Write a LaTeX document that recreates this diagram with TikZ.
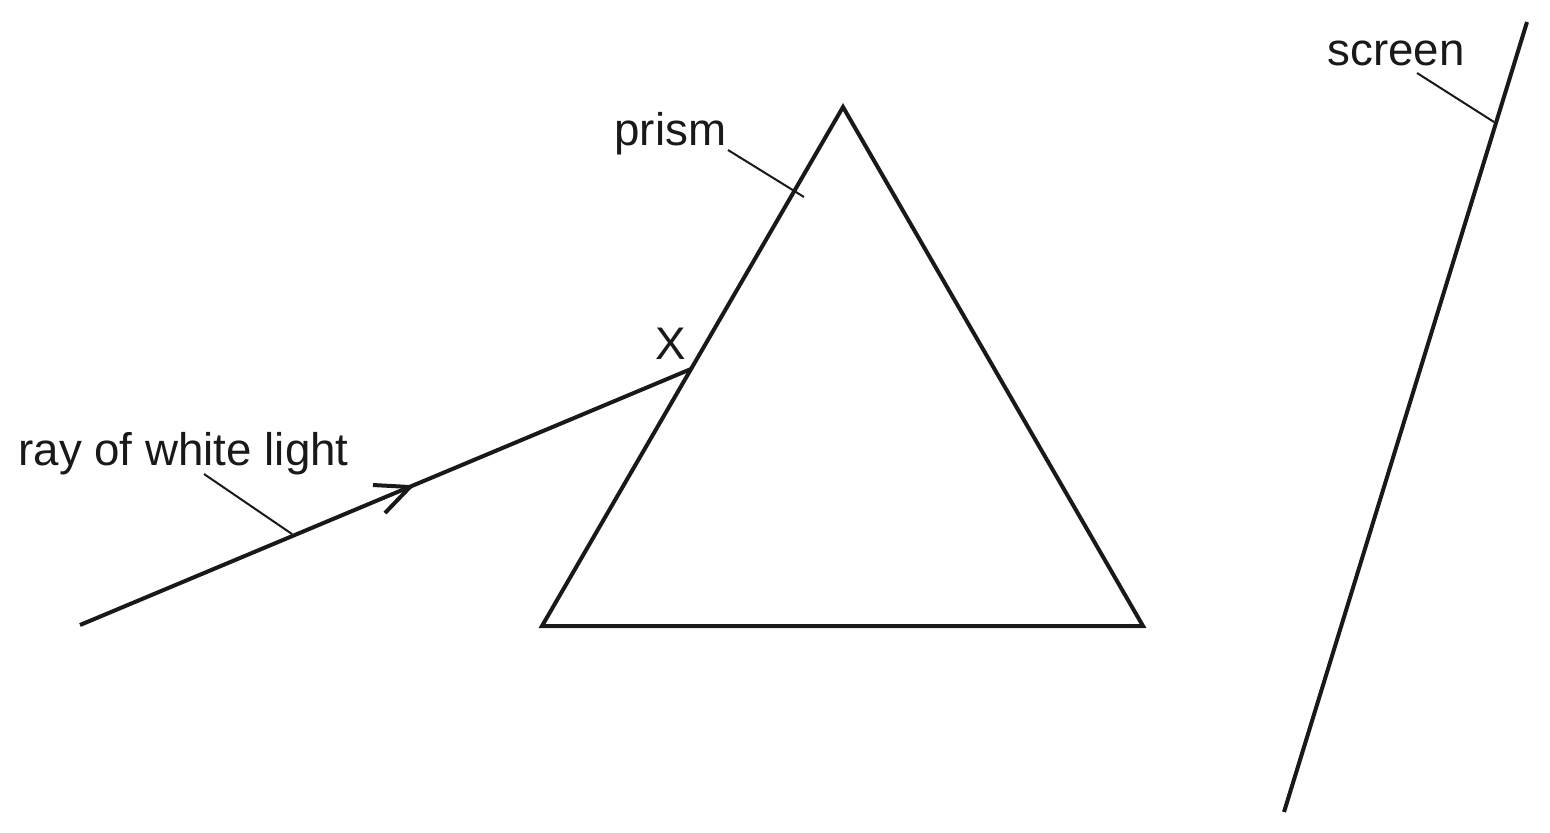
\documentclass[tikz,border=0pt]{standalone}
\usepackage{fontspec}
\setmainfont{Liberation Sans}
\begin{document}
\begin{tikzpicture}[x=0.5pt,y=-0.5pt,
  thick line/.style={line width=2pt,draw=black!90},
  leader/.style={line width=1pt,draw=black!90},
  lbl/.style={inner sep=0pt,anchor=base west,font=\fontsize{22.85}{27}\selectfont,text=black!90}]
\useasboundingbox (0,0) rectangle (1550,832);
% prism vertices
\coordinate (apex) at (843,107);
\coordinate (bl) at (542,626);
\coordinate (br) at (1143,626);
\draw[thick line,line join=miter] (apex) -- (br) -- (bl) -- cycle;
% ray
\coordinate (rs) at (80,625);
\coordinate (rx) at (691,369);
\draw[thick line] (rs) -- (rx);
% arrowhead (open chevron)
\coordinate (tip) at (410,487);
\coordinate (a1) at (373,485);
\coordinate (a2) at (385,513);
\draw[thick line] (a1) -- (tip) -- (a2);
% screen
\coordinate (s1) at (1527,22);
\coordinate (s2) at (1284,812);
\draw[thick line] (s1) -- (s2);
% labels
\node[lbl] (ray) at (18,465) {ray of white light};
\node[lbl] (prism) at (614,145) {prism};
\node[lbl] (screen) at (1327,65) {screen};
\node[lbl] (X) at (655,359) {X};
% leaders
\coordinate (lr1) at (204,474);
\coordinate (lr2) at (292,534);
\draw[leader] (lr1) -- (lr2);
\coordinate (lp1) at (728,150);
\coordinate (lp2) at (804,197);
\draw[leader] (lp1) -- (lp2);
\coordinate (ls1) at (1417,73);
\coordinate (ls2) at (1494,122);
\draw[leader] (ls1) -- (ls2);
\end{tikzpicture}
\end{document}
